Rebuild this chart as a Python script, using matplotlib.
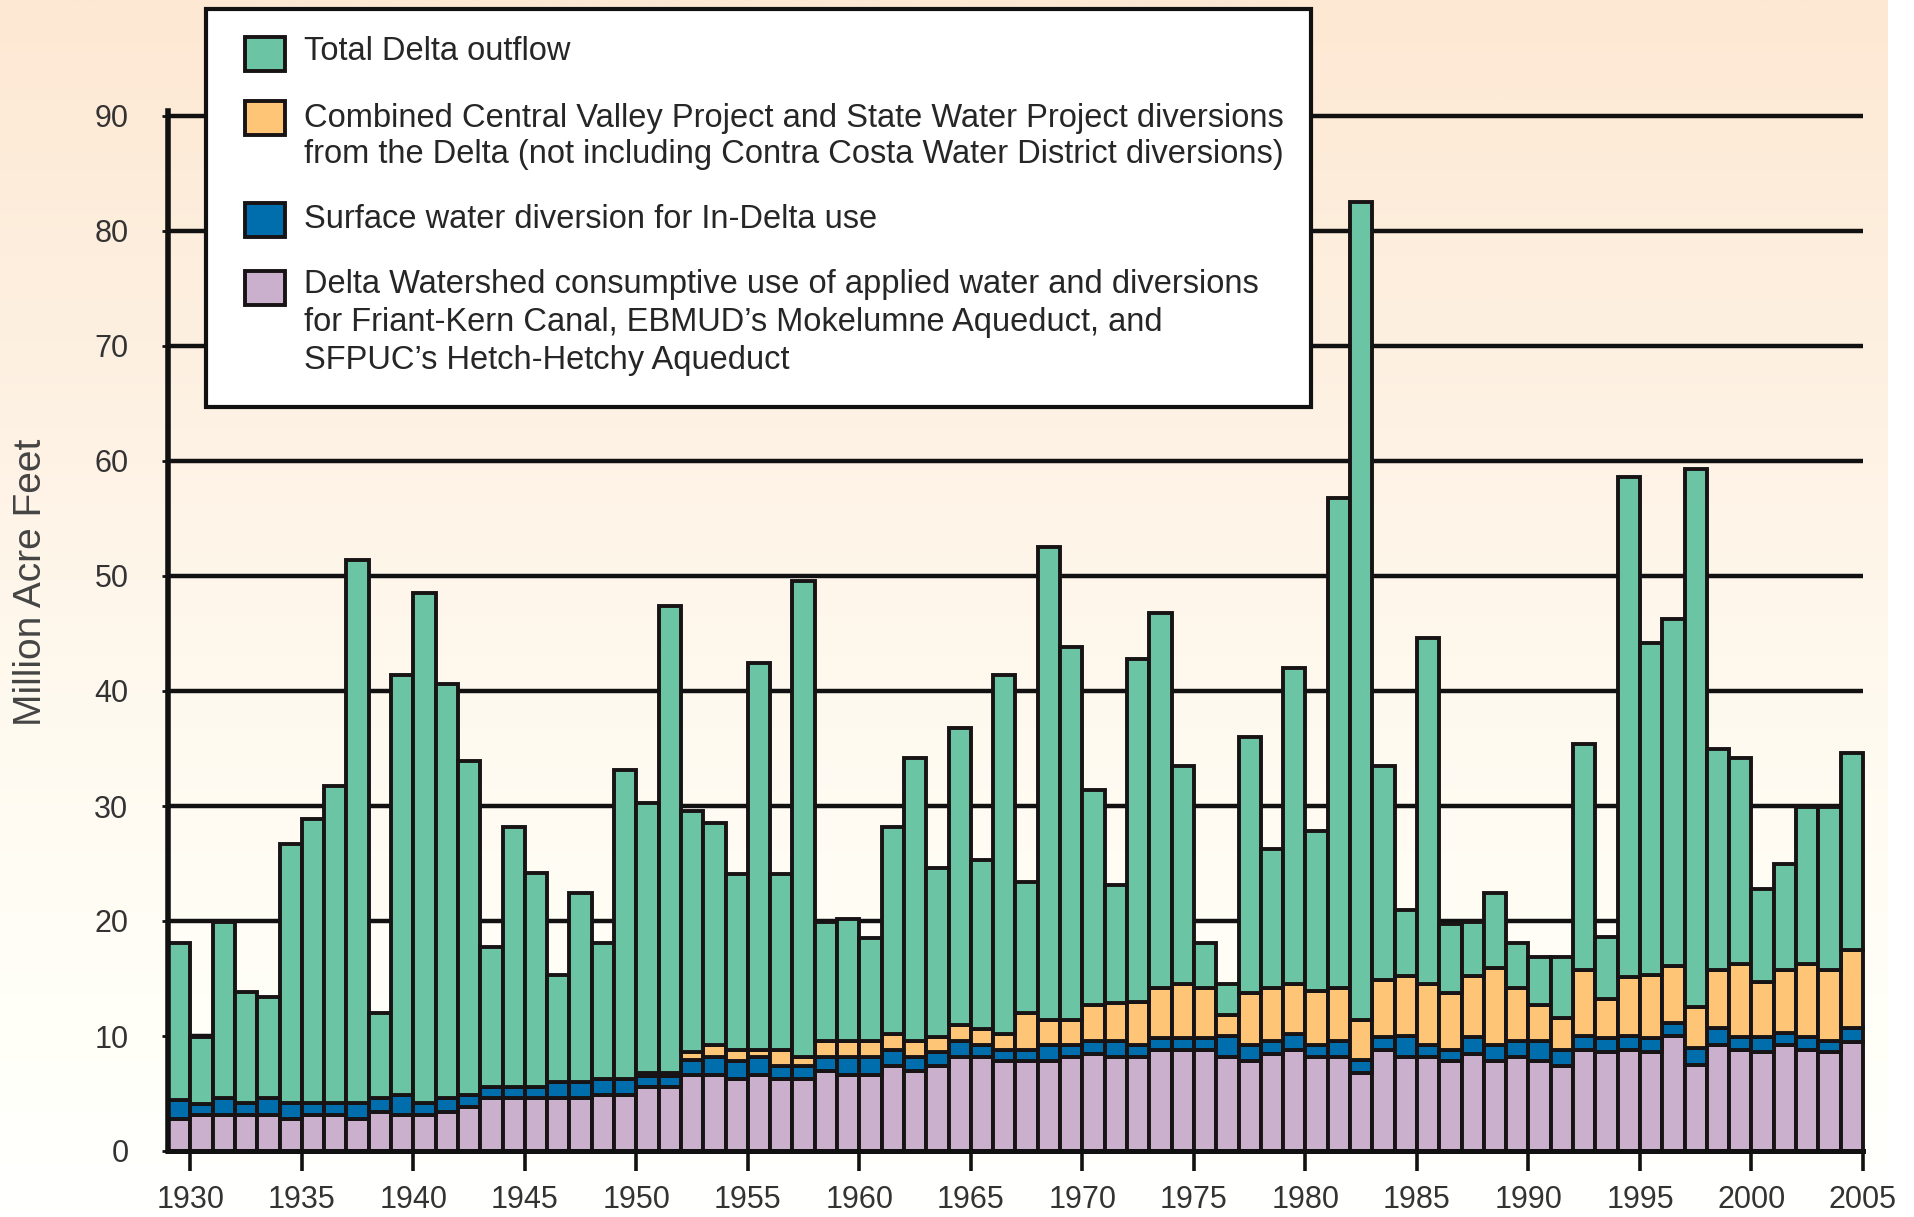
import matplotlib
matplotlib.use('Agg')
import matplotlib.pyplot as plt
import numpy as np
from matplotlib.patches import Rectangle
from matplotlib.colors import LinearSegmentedColormap

plt.rcParams['font.family'] = ['Liberation Sans', 'DejaVu Sans']

# ---------------- data (million acre-feet) ----------------
years = list(range(1930, 2006))

watershed_use = [2.8, 3.1, 3.1, 3.1, 3.1, 2.8, 3.1, 3.1, 2.8, 3.4,
                 3.1, 3.1, 3.4, 3.8, 4.6, 4.6, 4.6, 4.6, 4.6, 4.9,
                 4.9, 5.6, 5.6, 6.6, 6.6, 6.3, 6.6, 6.3, 6.3, 7.0,
                 6.6, 6.6, 7.4, 7.0, 7.4, 8.2, 8.2, 7.8, 7.8, 7.8,
                 8.2, 8.4, 8.2, 8.2, 8.8, 8.8, 8.8, 8.2, 7.8, 8.4,
                 8.8, 8.2, 8.2, 6.8, 8.8, 8.2, 8.2, 7.8, 8.4, 7.8,
                 8.2, 7.8, 7.4, 8.8, 8.6, 8.8, 8.6, 10.0, 7.5, 9.2,
                 8.8, 8.6, 9.2, 8.8, 8.6, 9.5]

in_delta_use = [1.6, 1.0, 1.5, 1.1, 1.5, 1.4, 1.1, 1.1, 1.4, 1.2,
                1.8, 1.1, 1.2, 1.1, 1.0, 1.0, 1.0, 1.4, 1.4, 1.4,
                1.4, 0.9, 0.9, 1.3, 1.6, 1.5, 1.6, 1.1, 1.1, 1.2,
                1.6, 1.6, 1.4, 1.2, 1.2, 1.4, 1.0, 1.0, 1.0, 1.4,
                1.0, 1.2, 1.4, 1.0, 1.0, 1.0, 1.0, 1.8, 1.4, 1.2,
                1.4, 1.0, 1.4, 1.1, 1.1, 1.8, 1.0, 1.0, 1.5, 1.4,
                1.4, 1.8, 1.4, 1.2, 1.2, 1.2, 1.2, 1.1, 1.5, 1.5,
                1.1, 1.3, 1.1, 1.1, 1.0, 1.2]

cvp_swp_exports = [0.0, 0.0, 0.0, 0.0, 0.0, 0.0, 0.0, 0.0, 0.0, 0.0,
                   0.0, 0.0, 0.0, 0.0, 0.0, 0.0, 0.0, 0.0, 0.0, 0.0,
                   0.0, 0.3, 0.3, 0.7, 1.0, 1.0, 0.6, 1.4, 0.8, 1.4,
                   1.4, 1.4, 1.4, 1.4, 1.3, 1.4, 1.4, 1.4, 3.2, 2.2,
                   2.2, 3.1, 3.3, 3.8, 4.4, 4.7, 4.4, 1.8, 4.5, 4.6,
                   4.3, 4.7, 4.6, 3.5, 5.0, 5.2, 5.3, 4.9, 5.3, 6.7,
                   4.6, 3.1, 2.8, 5.7, 3.4, 5.1, 5.5, 5.0, 3.5, 5.0,
                   6.4, 4.8, 5.4, 6.4, 6.1, 6.8]

delta_outflow = [13.7, 5.8, 15.3, 9.6, 8.8, 22.5, 24.7, 27.5, 47.2, 7.4,
                 36.5, 44.3, 36.0, 29.0, 12.1, 22.6, 18.6, 9.3, 16.4, 11.8,
                 26.8, 23.5, 40.6, 21.0, 19.3, 15.3, 33.6, 15.3, 41.4, 10.3,
                 10.6, 8.9, 18.0, 24.6, 14.7, 25.8, 14.7, 31.2, 11.4, 41.1,
                 32.4, 18.7, 10.2, 29.8, 32.6, 19.0, 3.9, 2.7, 22.3, 12.1,
                 27.5, 13.9, 42.6, 71.1, 18.6, 5.8, 30.1, 6.0, 4.7, 6.5,
                 3.9, 4.2, 5.3, 19.7, 5.4, 43.5, 28.9, 30.2, 46.8, 19.3,
                 17.9, 8.1, 9.3, 13.6, 14.2, 17.1]

x_ticks = list(range(1930, 2006, 5))
y_ticks = list(range(0, 91, 10))

legend_labels = [
    ["Total Delta outflow"],
    ["Combined Central Valley Project and State Water Project diversions",
     "from the Delta (not including Contra Costa Water District diversions)"],
    ["Surface water diversion for In-Delta use"],
    ["Delta Watershed consumptive use of applied water and diversions",
     "for Friant-Kern Canal, EBMUD\u2019s Mokelumne Aqueduct, and",
     "SFPUC\u2019s Hetch-Hetchy Aqueduct"],
]

# ---------------- style ----------------
C_GREEN = '#6BC5A5'
C_ORANGE = '#FEC577'
C_BLUE = '#006DAD'
C_PURPLE = '#CBB0CE'
EDGE = '#181314'
TXT = '#333333'
legend_colors = [C_GREEN, C_ORANGE, C_BLUE, C_PURPLE]

W_PX, H_PX = 1914, 1217
fig = plt.figure(figsize=(W_PX / 100, H_PX / 100), dpi=100)
fig.patch.set_facecolor('white')

def fx(px):
    return px / W_PX

def fy(py):
    return 1 - py / H_PX

# background gradient
bg = fig.add_axes([0, 0, fx(1888), 1], zorder=-10)
grad = np.linspace(0, 1, 512).reshape(-1, 1)
cmap = LinearSegmentedColormap.from_list(
    'bg', [(0.0, '#FDE8D3'), (0.35, '#FEF2E4'), (0.6, '#FFFAF0'),
           (0.85, '#FFFFF8'), (1.0, '#FFFFFF')])
bg.imshow(grad, aspect='auto', cmap=cmap, extent=[0, 1, 0, 1], origin='upper')
bg.axis('off')

# main axes (0 at y=1151 px, 90 at y=116 px)
x0, x1 = 168, 1863
y0 = 1151
px_per_unit = (1151 - 116) / 90.0
ytop_val = 90.4
y1 = y0 - ytop_val * px_per_unit
ax = fig.add_axes([fx(x0), fy(y0), fx(x1) - fx(x0), fy(y1) - fy(y0)])
ax.patch.set_alpha(0)

xpos = np.array(years) - 1
p = np.array(watershed_use)
b = np.array(in_delta_use)
o = np.array(cvp_swp_exports)
g = np.array(delta_outflow)

kw = dict(width=1, align='edge', edgecolor=EDGE, linewidth=2.8, zorder=3, clip_on=False)
ax.bar(xpos, p, color=C_PURPLE, **kw)
ax.bar(xpos, b, bottom=p, color=C_BLUE, **kw)
ax.bar(xpos, o, bottom=p + b, color=C_ORANGE, **kw)
ax.bar(xpos, g, bottom=p + b + o, color=C_GREEN, **kw)

ax.set_xlim(1929, 2005)
ax.set_ylim(0, ytop_val)
ax.set_axisbelow(True)
ax.yaxis.grid(True, color='#111111', linewidth=3.2)
ax.xaxis.grid(False)

for s in ['top', 'right']:
    ax.spines[s].set_visible(False)
ax.spines['left'].set_linewidth(4.0)
ax.spines['left'].set_color('#111111')
ax.spines['left'].set_zorder(4)
ax.spines['bottom'].set_linewidth(3.6)
ax.spines['bottom'].set_color('#111111')
ax.spines['bottom'].set_zorder(4)

ax.set_yticks(y_ticks)
ax.set_xticks(x_ticks)
ax.tick_params(axis='y', length=4.5, width=2.0, direction='out', pad=24,
               labelsize=22, labelcolor=TXT, color='#111111')
ax.tick_params(axis='x', length=14.5, width=2.6, direction='out', pad=10,
               labelsize=22, labelcolor=TXT, color='#111111')

fig.text(fx(31), fy(582), 'Million Acre Feet', rotation=90, ha='center',
         va='center', fontsize=28, color='#444444')

# legend box
lg = Rectangle((fx(206), fy(407)), fx(1311) - fx(206), fy(9) - fy(407),
               transform=fig.transFigure, facecolor='white', edgecolor='#111111',
               linewidth=3.0, zorder=5)
fig.add_artist(lg)

patch_centers = [54, 118, 220, 288]
line_y = [[52], [118, 155], [220], [285, 322, 360]]
for col, pc, labels, ys in zip(legend_colors, patch_centers, legend_labels, line_y):
    r = Rectangle((fx(245), fy(pc + 17)), fx(40), fy(0) - fy(34),
                  transform=fig.transFigure, facecolor=col, edgecolor=EDGE,
                  linewidth=2.8, zorder=6)
    fig.add_artist(r)
    for txt, yy in zip(labels, ys):
        fig.text(fx(304), fy(yy), txt, ha='left', va='center', fontsize=23.5,
                 color='#262626', zorder=7)

fig.savefig('out.png', dpi=100)
